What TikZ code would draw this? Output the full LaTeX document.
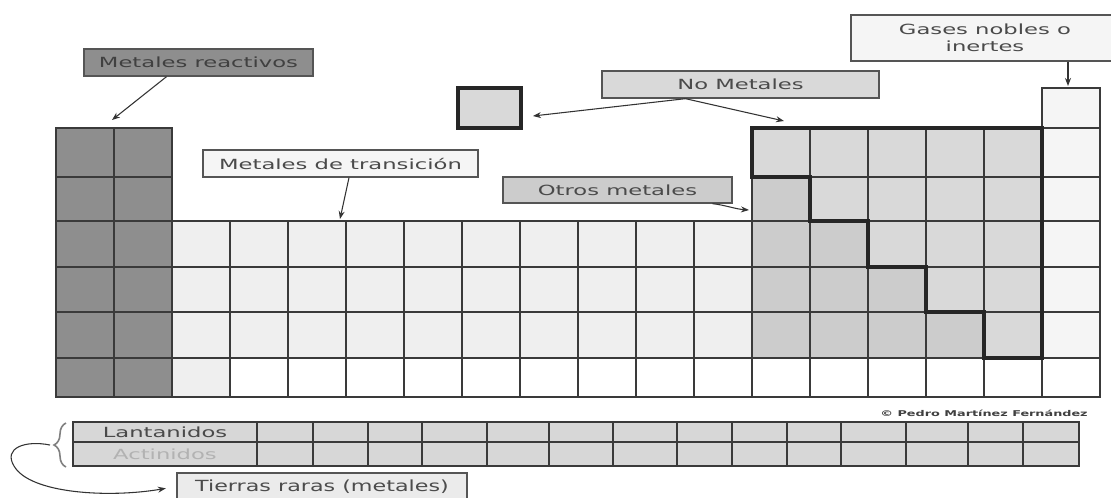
\documentclass[tikz,border=0pt]{standalone}
\usepackage{graphicx}
\usepackage{fontspec}
\setmainfont{DejaVu Sans}
\usetikzlibrary{arrows.meta,calc,decorations.pathreplacing}
\definecolor{gridc}{HTML}{3A3A3A}
\definecolor{reactc}{HTML}{8E8E8E}
\definecolor{transc}{HTML}{EFEFEF}
\definecolor{nmc}{HTML}{D9D9D9}
\definecolor{omc}{HTML}{CCCCCC}
\definecolor{noblec}{HTML}{F5F5F5}
\definecolor{lanc}{HTML}{D7D7D7}
\definecolor{txtc}{HTML}{4A4A4A}
\definecolor{boxc}{HTML}{555555}
\definecolor{arrc}{HTML}{333333}
\newcommand{\lbl}[1]{\scalebox{1.62}[1]{#1}}
\begin{document}
\begin{tikzpicture}[x=0.75pt,y=-0.75pt,
  cell/.style={draw=gridc, line width=1.1pt},
  boldline/.style={draw=black!85, line width=2.3pt, line join=miter},
  lab/.style={draw=boxc, line width=1pt, inner sep=0pt, text=txtc, align=center,
              font=\fontsize{10.5pt}{12.5pt}\selectfont},
  arr/.style={draw=arrc, line width=0.8pt, -{Stealth[length=6pt,width=4.5pt]}},
  plain/.style={inner sep=0pt, text=txtc, font=\fontsize{10.5pt}{12pt}\selectfont}]
\useasboundingbox (0,0) rectangle (1111,497);
\begin{scope}
\clip (0,0) rectangle (1111,497);
\fill[white] (0,0) rectangle (1111,497);

% ---- fills of main table
\fill[reactc] (56,128) rectangle (172,397);
\fill[transc] (172,221) rectangle (752,358);
\fill[transc] (172,358) rectangle (230,397);
\fill[omc] (752,128) rectangle (1042,358);
\fill[nmc] (752,128) -- (1042,128) -- (1042,358) -- (984,358) -- (984,312) -- (926,312)
  -- (926,267) -- (868,267) -- (868,221) -- (810,221) -- (810,177) -- (752,177) -- cycle;
\fill[noblec] (1042,88) rectangle (1100,358);

% ---- grid lines
\foreach \ya/\yb in {128/177,177/221,221/267,267/312,312/358,358/397}
  \foreach \xa in {56,114}
    \draw[cell] (\xa,\ya) rectangle (\xa+58,\yb);
\foreach \ya/\yb in {221/267,267/312,312/358,358/397}
  \foreach \xa in {172,230,288,346,404,462,520,578,636,694,752,810,868,926,984}
    \draw[cell] (\xa,\ya) rectangle (\xa+58,\yb);
\foreach \ya/\yb in {128/177,177/221}
  \foreach \xa in {752,810,868,926,984}
    \draw[cell] (\xa,\ya) rectangle (\xa+58,\yb);
\foreach \ya/\yb in {88/128,128/177,177/221,221/267,267/312,312/358,358/397}
  \draw[cell] (1042,\ya) rectangle (1100,\yb);
\draw[boldline] (752,128) -- (1042,128) -- (1042,358) -- (984,358) -- (984,312) -- (926,312)
  -- (926,267) -- (868,267) -- (868,221) -- (810,221) -- (810,177) -- (752,177) -- cycle;

% ---- hydrogen box
\node[draw=black!85, line width=2.3pt, fill=nmc, minimum width=47.25pt, minimum height=30pt,
      inner sep=0pt] (H) at (489.5,108) {};

% ---- lanthanides / actinides
\fill[lanc] (73,422) rectangle (1079,466);
\draw[cell] (73,422) rectangle (1079,466);
\draw[cell] (73,442) -- (1079,442);
\foreach \x in {257,313,368,422,487,549,613,677,732,787,841,906,968,1023}
  \draw[cell] (\x,422) -- (\x,466);
\node[plain, text=txtc] (lan) at (165,432) {\lbl{Lantanidos}};
\node[plain, text=black!30] (act) at (165,454) {\lbl{Actinidos}};
\draw[draw=black!50, line width=1.2pt, decorate, decoration={brace, amplitude=9pt}]
  (66,467) -- (66,423);
\coordinate (btip) at (50,445);

% ---- labels
\node[lab, fill=reactc, text=black!75, minimum width=171.75pt, minimum height=20.25pt]
  (reac) at (198.5,62.5) {\lbl{Metales reactivos}};
\node[lab, fill=noblec, minimum width=206.25pt, minimum height=20.25pt]
  (trans) at (340.5,163.5) {\lbl{Metales de transición}};
\node[lab, fill=nmc, minimum width=207.75pt, minimum height=20.25pt]
  (nm) at (740.5,84.5) {\lbl{No Metales}};
\node[lab, fill=omc, minimum width=171.75pt, minimum height=19.5pt]
  (om) at (617.5,190) {\lbl{Otros metales}};
\node[lab, fill=noblec, minimum width=201pt, minimum height=34.5pt]
  (gas) at (985,38) {\lbl{Gases nobles o}\\\lbl{inertes}};
\node[lab, fill=black!8, text=black!70, minimum width=217.5pt, minimum height=20.25pt,
      font=\fontsize{11.5pt}{13pt}\selectfont]
  (tier) at (322,486.5) {\scalebox{1.45}[1]{Tierras raras (metales)}};
\node[plain, text=black!75, font=\bfseries\fontsize{6pt}{7pt}\selectfont]
  (copy) at (984,413) {\scalebox{1.6}[1]{© Pedro Martínez Fernández}};

% ---- arrow targets
\coordinate (tReac) at (112,120);
\coordinate (tTrans) at (340,219);
\coordinate (tH) at (533,116);
\coordinate (tNM) at (784,121);
\coordinate (tOM) at (749,210);
\coordinate (tGas) at (1068,86);

% ---- arrows
\draw[arr] ($(reac.south)+(-32,0)$) -- (tReac);
\draw[arr] ($(trans.south)+(8.5,0)$) -- (tTrans);
\draw[arr] ($(nm.south)+(-55,0)$) -- (tH);
\draw[arr] ($(nm.south)+(-55,0)$) -- (tNM);
\draw[arr] ($(om.south)+(95,0)$) .. controls (725,205) and (735,209) .. (tOM);
\draw[arr] ($(gas.south)+(83,0)$) -- (tGas);
\draw[arr, shorten >=8pt] (btip) .. controls (25,440) and (3,448) .. (14,466)
  .. controls (30,494) and (110,498) .. (tier.west);
\end{scope}
\end{tikzpicture}
\end{document}
